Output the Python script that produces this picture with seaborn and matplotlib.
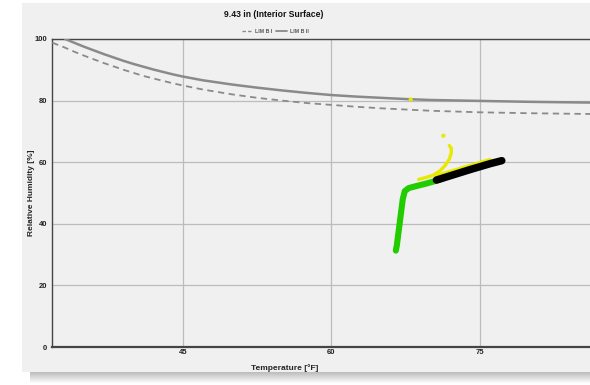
import matplotlib
matplotlib.use("Agg")
import matplotlib.pyplot as plt
from matplotlib.patches import Rectangle
from matplotlib.lines import Line2D
import seaborn as sns
import pandas as pd

# Isopleth limit curves (temperature in °F, relative humidity in %)
lim1_temp = [31.8, 33, 34, 35, 36, 37, 38, 39, 40, 41, 42, 43, 44, 45, 47, 50,
             52.5, 55, 57.5, 60, 62.5, 65, 67.5, 70, 75, 80, 90]
lim1_rh = [98.8, 97.3, 95.9, 94.6, 93.4, 92.2, 91.1, 90.0, 89.0, 88.0, 87.2, 86.4,
           85.6, 84.9, 83.6, 82.0, 80.9, 80.0, 79.2, 78.6, 78.0, 77.5, 77.1, 76.7,
           76.2, 75.9, 75.5]
lim2_temp = [33.1, 34, 35, 36, 37, 38, 39, 40, 41, 42, 43, 44, 45, 47, 50,
             52.5, 55, 57.5, 60, 62.5, 65, 67.5, 70, 75, 80, 90]
lim2_rh = [100.0, 98.8, 97.5, 96.3, 95.1, 94.0, 92.9, 91.9, 91.0, 90.1, 89.3, 88.5,
           87.8, 86.6, 85.2, 84.2, 83.3, 82.5, 81.8, 81.3, 80.9, 80.5, 80.2, 79.9,
           79.6, 79.2]

# Surface conditions over time
green_temp = [66.5, 66.6, 66.8, 67.0, 67.2, 67.4, 67.8, 68.5, 69.5, 70.5, 71.2]
green_rh = [31.3, 33.0, 38.0, 43.0, 48.0, 50.6, 51.6, 52.2, 53.0, 53.9, 54.6]
yellow_temp = [68.8, 69.5, 70.3, 71.0, 71.5, 71.9, 72.1, 72.1, 71.9]
yellow_rh = [54.4, 55.0, 55.8, 57.3, 59.0, 61.0, 63.0, 64.5, 65.4]
yellow_edge_temp = [70.6, 72.0, 74.0, 76.0]
yellow_edge_rh = [55.6, 57.0, 58.9, 60.8]
yellow_dot_temp = [71.3, 68.0]
yellow_dot_rh = [68.6, 80.4]
black_temp = [70.6, 72.0, 74.0, 76.0, 77.2]
black_rh = [54.2, 55.6, 57.6, 59.5, 60.5]

title = "9.43 in (Interior Surface)"
x_ticks = [45, 60, 75]
y_ticks = [0, 20, 40, 60, 80, 100]

sns.set_theme(style="white")
plt.rcParams["font.family"] = ["Liberation Sans", "DejaVu Sans"]
plt.rcParams["font.weight"] = "bold"

panel = "#f0f0f0"
fig = plt.figure(figsize=(5.90, 3.85), dpi=100, facecolor="white")

# panel with a soft drop shadow underneath
for i in range(12):
    a = 0.28 * (1 - i / 12)
    fig.patches.append(Rectangle((30 / 590, (385 - 372 - i) / 385), 1, 1 / 385,
                                 transform=fig.transFigure, facecolor="black",
                                 alpha=a, edgecolor="none", zorder=-2))
fig.patches.append(Rectangle((22 / 590, 13 / 385), 1, 369 / 385,
                             transform=fig.transFigure, facecolor=panel,
                             edgecolor="none", zorder=-1))

left, bottom, top = 52, 347, 39
ax_w = 628.5 - left
ax = fig.add_axes([left / 590, 1 - bottom / 385, ax_w / 590, (bottom - top) / 385])
ax.set_facecolor(panel)
ax.set_xlim(31.77, 90)
ax.set_ylim(0, 100)

d1 = pd.DataFrame({"t": lim1_temp, "rh": lim1_rh})
d2 = pd.DataFrame({"t": lim2_temp, "rh": lim2_rh})
sns.lineplot(data=d1, x="t", y="rh", ax=ax, color="#8a8a8a", linewidth=1.3,
             linestyle=(0, (3.5, 2.5)), sort=False, estimator=None, zorder=3)
sns.lineplot(data=d2, x="t", y="rh", ax=ax, color="#8a8a8a", linewidth=1.8,
             sort=False, estimator=None, zorder=3)

def trace(tx, ty, color, lw, z):
    df = pd.DataFrame({"t": tx, "rh": ty})
    sns.lineplot(data=df, x="t", y="rh", ax=ax, color=color, linewidth=lw,
                 sort=False, estimator=None, zorder=z,
                 solid_capstyle="round", solid_joinstyle="round")

trace(green_temp, green_rh, "#22cc00", 4.4, 4)
trace(yellow_temp, yellow_rh, "#e8e800", 2.4, 5)
trace(yellow_edge_temp, yellow_edge_rh, "#e8e800", 2.6, 5)
sns.scatterplot(x=yellow_dot_temp, y=yellow_dot_rh, ax=ax, color="#e8e800",
                s=9, edgecolor="none", zorder=5)
trace(black_temp, black_rh, "#000000", 5.4, 6)

ax.set_xticks(x_ticks)
ax.set_yticks(y_ticks)
ax.grid(True, color="#bcbcbc", linewidth=0.9)
ax.set_axisbelow(True)
ax.tick_params(axis="both", labelsize=5.5, colors="#222222", length=2, width=0.6,
               pad=1.5, direction="out")
ax.tick_params(axis="x", length=0)
for lab in ax.get_xticklabels() + ax.get_yticklabels():
    lab.set_fontweight("bold")
for side in ["left", "top", "bottom", "right"]:
    ax.spines[side].set_color("#444444")
ax.spines["left"].set_linewidth(1.0)
ax.spines["top"].set_linewidth(1.0)
ax.spines["bottom"].set_linewidth(1.6)

ax.set_xlabel("Temperature [°F]", fontsize=6, fontweight="bold")
ax.set_ylabel("Relative Humidity [%]", fontsize=6, fontweight="bold")
ax.xaxis.set_label_coords((285 - left) / ax_w, -(364 - bottom) / (bottom - top))
ax.yaxis.set_label_coords(-(left - 35) / ax_w, 0.5)

fig.text(274 / 590, 1 - 14.5 / 385, title, ha="center", va="center",
         fontsize=6.2, fontweight="bold", color="#111111")

handles = [Line2D([], [], color="#8a8a8a", lw=1.0, linestyle=(0, (2.5, 1.5))),
           Line2D([], [], color="#8a8a8a", lw=1.3)]
fig.legend(handles, ["LIM B I", "LIM B II"], loc="center",
           bbox_to_anchor=(275 / 590, 1 - 31.5 / 385), ncol=2, frameon=False,
           fontsize=3.8, handlelength=2.2, handletextpad=0.4, columnspacing=0.6,
           labelcolor="#555555")

fig.savefig("out.png", dpi=100, facecolor="white")
